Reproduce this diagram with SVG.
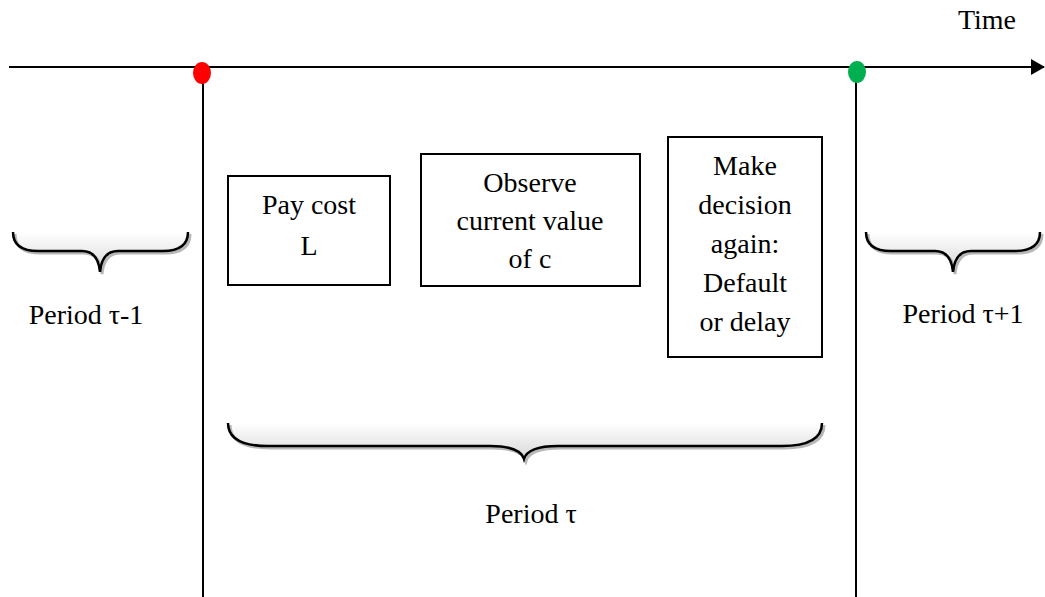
<svg xmlns="http://www.w3.org/2000/svg" width="1045" height="597" viewBox="0 0 1045 597">
<style>
text{font-family:"Liberation Serif","Times New Roman",serif;font-size:28px;fill:#000;text-anchor:middle}
.box{fill:#fff;stroke:#000;stroke-width:2}
.line{stroke:#000;stroke-width:2;fill:none}
.brace{fill:none;stroke:#000;stroke-width:2.5}
.bshadow{fill:none;stroke:#999;stroke-width:3;opacity:0.7}
</style>
<defs>
<marker id="arr" markerWidth="14" markerHeight="16" refX="13" refY="8" orient="auto" markerUnits="userSpaceOnUse">
<path d="M0,0 L14,8 L0,16 Z" fill="#000"/>
</marker>
<linearGradient id="bg" x1="0" y1="0" x2="0" y2="1">
<stop offset="0" stop-color="#fff"/><stop offset="1" stop-color="#d8d8d8"/>
</linearGradient>
</defs>
<g id="connectors">
<line class="line" x1="9" y1="67" x2="1044" y2="67" stroke-width="3" marker-end="url(#arr)"/>
<line class="line" x1="203" y1="75" x2="203" y2="597"/>
<line class="line" x1="856" y1="75" x2="856" y2="597"/>
</g>
<g id="dot-red"><ellipse cx="202" cy="73" rx="9" ry="11" fill="#ff0000"/></g>
<g id="dot-green"><ellipse cx="857" cy="72" rx="9" ry="11" fill="#00b050"/></g>
<g id="time-label"><text x="987" y="29">Time</text></g>
<g id="box-pay">
<rect class="box" x="228" y="176" width="162" height="109"/>
<text x="309" y="214">Pay cost</text>
<text x="309" y="255">L</text>
</g>
<g id="box-observe">
<rect class="box" x="421" y="154" width="219" height="132"/>
<text x="530" y="192">Observe</text>
<text x="530" y="230">current value</text>
<text x="530" y="268">of c</text>
</g>
<g id="box-decision">
<rect class="box" x="668" y="137" width="154" height="220"/>
<text x="745" y="175">Make</text>
<text x="745" y="214">decision</text>
<text x="745" y="253">again:</text>
<text x="745" y="292">Default</text>
<text x="745" y="331">or delay</text>
</g>
<g id="brace-prev">
<path d="M13,232 Q13,251 38,251 L82,251 Q98,251 100,272 Q102,251 118,251 L163,251 Q188,251 188,232 Z" fill="url(#bg)" stroke="none"/>
<path class="bshadow" d="M15,234 Q15,253 40,253 L84,253 Q100,253 102,274 Q104,253 120,253 L165,253 Q190,253 190,234"/>
<path class="brace" d="M13,232 Q13,251 38,251 L82,251 Q98,251 100,272 Q102,251 118,251 L163,251 Q188,251 188,232"/>
<text x="86" y="324">Period τ-1</text>
</g>
<g id="brace-next">
<path d="M866,232 Q866,251 891,251 L935,251 Q951,251 953,272 Q955,251 971,251 L1015,251 Q1040,251 1040,232 Z" fill="url(#bg)" stroke="none"/>
<path class="bshadow" d="M868,234 Q868,253 893,253 L937,253 Q953,253 955,274 Q957,253 973,253 L1017,253 Q1042,253 1042,234"/>
<path class="brace" d="M866,232 Q866,251 891,251 L935,251 Q951,251 953,272 Q955,251 971,251 L1015,251 Q1040,251 1040,232"/>
<text x="963" y="323">Period τ+1</text>
</g>
<g id="brace-current">
<path d="M228,423 Q228,446 268,446 L490,446 Q520,446 524,459 Q528,446 558,446 L782,446 Q822,446 822,423 Z" fill="url(#bg)" stroke="none"/>
<path class="bshadow" d="M230,425 Q230,448 270,448 L492,448 Q522,448 526,461 Q530,448 560,448 L784,448 Q824,448 824,425"/>
<path class="brace" d="M228,423 Q228,446 268,446 L490,446 Q520,446 524,459 Q528,446 558,446 L782,446 Q822,446 822,423"/>
<text x="531" y="523">Period τ</text>
</g>
</svg>
